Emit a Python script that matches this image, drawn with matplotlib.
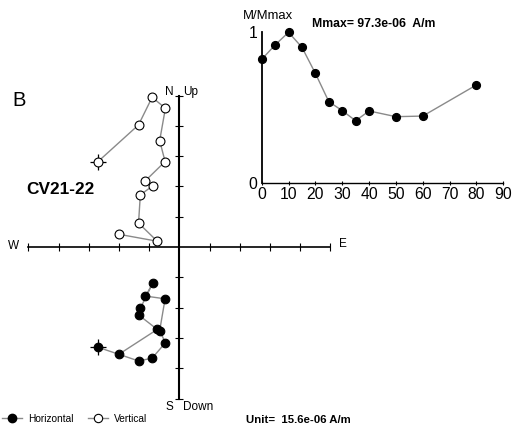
import matplotlib
matplotlib.use("Agg")
import matplotlib.pyplot as plt
from matplotlib.lines import Line2D

plt.rcParams['font.family'] = ['Liberation Sans', 'DejaVu Sans']

# Demagnetisation steps (mT)
steps = [0, 5, 10, 15, 20, 25, 30, 35, 40, 50, 60, 80]
# Normalised intensity M/Mmax
m_norm = [0.82, 0.916, 1.0, 0.90, 0.727, 0.539, 0.479, 0.412, 0.477, 0.439, 0.443, 0.65]
# Vector components in plot units (1 unit = 15.6e-06 A/m)
east = [-2.69, -1.35, -0.90, -0.46, -0.65, -0.47, -1.12, -0.88, -1.29, -1.35, -0.73, -2.00]
north = [-3.31, -3.76, -3.67, -3.16, -2.76, -1.71, -1.62, -1.20, -2.02, -2.24, -2.72, -3.54]
up = [2.82, 4.03, 4.94, 4.58, 3.51, 2.82, 2.19, 2.02, 1.72, 0.79, 0.19, 0.42]

x_ticks = [0, 10, 20, 30, 40, 50, 60, 70, 80, 90]
z_ticks = [-5, -4, -3, -2, -1, 1, 2, 3, 4, 5]

W, H = 515, 425
fig = plt.figure(figsize=(W / 100, H / 100), dpi=100)
fig.patch.set_facecolor('white')

gray = '#8a8a8a'

# ---------------- Zijderveld diagram ----------------
ax = fig.add_axes([28.3 / W, 1 - 398.5 / H, 302 / W, 303 / H])
ax.set_xlim(-5, 5)
ax.set_ylim(-5, 5)
ax.patch.set_visible(False)
for s in ['top', 'right']:
    ax.spines[s].set_visible(False)
ax.spines['left'].set_position('zero')
ax.spines['bottom'].set_position('zero')
ax.spines['left'].set_linewidth(1.5)
ax.spines['bottom'].set_linewidth(1.2)
ax.set_xticks(z_ticks)
ax.set_yticks(z_ticks)
ax.set_xticklabels([])
ax.set_yticklabels([])
ax.tick_params(direction='inout', length=6, width=0.8)

# crosses marking the first step
ax.plot(east[0], north[0], marker='+', ms=12, mew=0.9, color='k', zorder=2.5, clip_on=False)
ax.plot(east[0], up[0], marker='+', ms=12, mew=0.9, color='k', zorder=2.5, clip_on=False)

ax.plot(east, north, '-', color=gray, lw=1.0, marker='o', ms=6.2, mfc='k', mec='k',
        mew=0.8, zorder=3, clip_on=False)
ax.plot(east, up, '-', color=gray, lw=1.0, marker='o', ms=6.4, mfc='white', mec='k',
        mew=0.8, zorder=3, clip_on=False)

fs_lab = 8.5
ax.text(-5.3, 0.03, 'W', ha='right', va='center', fontsize=fs_lab)
ax.text(5.3, 0.1, 'E', ha='left', va='center', fontsize=fs_lab)
ax.text(-0.2, 5.1, 'N', ha='right', va='center', fontsize=fs_lab)
ax.text(0.12, 5.1, 'Up', ha='left', va='center', fontsize=fs_lab)
ax.text(-0.2, -5.27, 'S', ha='right', va='center', fontsize=fs_lab)
ax.text(0.12, -5.27, 'Down', ha='left', va='center', fontsize=fs_lab)

fig.text(12 / W, 1 - 100 / H, 'B', fontsize=14.5, ha='left', va='center')
fig.text(26 / W, 1 - 190 / H, 'CV21-22', fontsize=12.4, fontweight='bold',
         ha='left', va='center')
fig.text(245.5 / W, 1 - 420 / H, 'Unit=  15.6e-06 A/m', fontsize=8.2, fontweight='bold',
         ha='left', va='center')

handles = [
    Line2D([], [], color=gray, lw=1.0, marker='o', ms=6, mfc='k', mec='k'),
    Line2D([], [], color=gray, lw=1.0, marker='o', ms=6, mfc='white', mec='k', mew=0.8),
]
fig.legend(handles, ['Horizontal', 'Vertical'], loc='center left',
           bbox_to_anchor=(2 / W, 1 - 419 / H), ncol=2, frameon=False,
           fontsize=7.3, handlelength=2.0, handletextpad=0.55, columnspacing=1.45,
           borderpad=0, borderaxespad=0)

# ---------------- M/Mmax plot ----------------
ax2 = fig.add_axes([261.7 / W, 1 - 182.7 / H, 241.6 / W, 150.4 / H])
ax2.set_xlim(0, 90)
ax2.set_ylim(0, 1)
ax2.patch.set_visible(False)
for s in ['top', 'right']:
    ax2.spines[s].set_visible(False)
ax2.spines['left'].set_linewidth(1.3)
ax2.spines['bottom'].set_linewidth(1.0)
ax2.set_xticks(x_ticks)
ax2.set_xticklabels([str(v) for v in x_ticks])
ax2.set_yticks([0, 1])
ax2.set_yticklabels(['0', '1'])
ax2.tick_params(axis='x', direction='inout', length=3, width=0.8, labelsize=11.3, pad=1.5)
ax2.tick_params(axis='y', length=0, labelsize=11.3, pad=3)

ax2.plot(steps, m_norm, '-', color=gray, lw=1.0, marker='o', ms=5.6, mfc='k', mec='k',
         zorder=3, clip_on=False)

ax2.text(-0.077, 1.11, 'M/Mmax', transform=ax2.transAxes, fontsize=9.4,
         ha='left', va='center')
ax2.text(0.208, 1.055, 'Mmax= 97.3e-06  A/m', transform=ax2.transAxes, fontsize=8.8,
         fontweight='bold', ha='left', va='center')

fig.savefig('out.png', dpi=100)
